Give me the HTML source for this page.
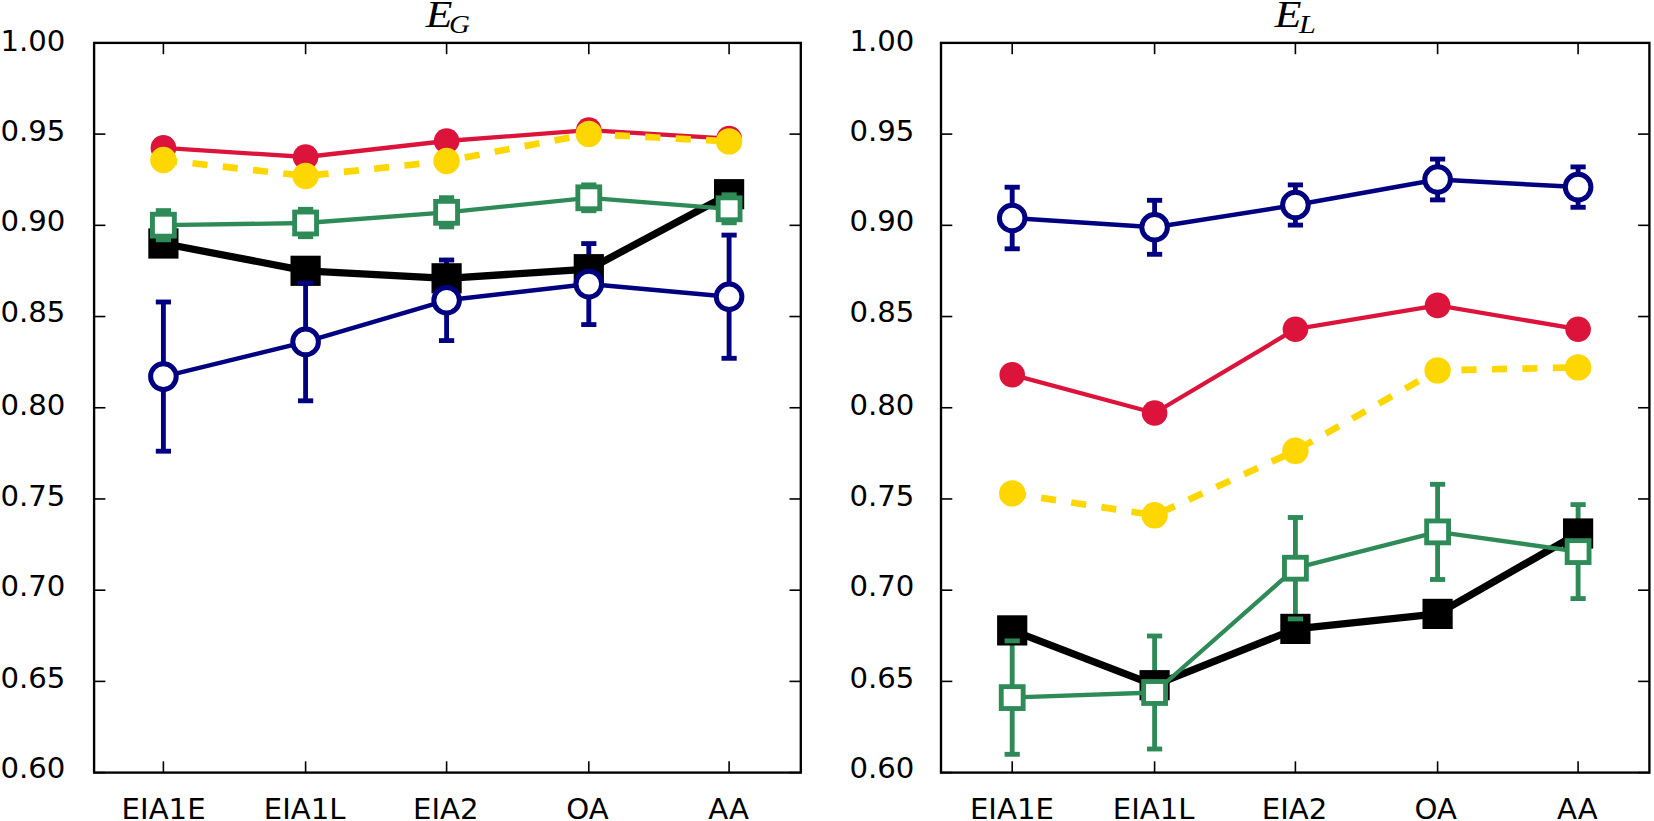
<!DOCTYPE html>
<html lang="en"><head><meta charset="utf-8"><title>E_G and E_L by group</title>
<style>html,body{margin:0;padding:0;background:#fff;overflow:hidden}svg{display:block}.t{font-family:"DejaVu Sans","Liberation Sans",sans-serif;font-size:29.17px;fill:#000}.m{font-family:"Liberation Serif","DejaVu Serif",serif;font-style:italic;fill:#000}</style></head><body>
<svg width="1654" height="821" viewBox="0 0 1654 821">
<rect x="0" y="0" width="1654" height="821" fill="#fff"/>
<g>
<line x1="163.4" x2="163.4" y1="210.6" y2="239.8" stroke="#2e8b57" stroke-width="4.86"/>
<line x1="305.6" x2="305.6" y1="209.3" y2="236.7" stroke="#2e8b57" stroke-width="4.86"/>
<line x1="446.6" x2="446.6" y1="197.7" y2="226.9" stroke="#2e8b57" stroke-width="4.86"/>
<line x1="588.8" x2="588.8" y1="184.9" y2="210.7" stroke="#2e8b57" stroke-width="4.86"/>
<line x1="729.1" x2="729.1" y1="194.8" y2="222.8" stroke="#2e8b57" stroke-width="4.86"/>
<line x1="163.4" x2="163.4" y1="302" y2="451.2" stroke="#000080" stroke-width="4.86"/>
<line x1="305.6" x2="305.6" y1="283" y2="400.8" stroke="#000080" stroke-width="4.86"/>
<line x1="446.6" x2="446.6" y1="260" y2="340.6" stroke="#000080" stroke-width="4.86"/>
<line x1="588.8" x2="588.8" y1="243.6" y2="324.6" stroke="#000080" stroke-width="4.86"/>
<line x1="729.1" x2="729.1" y1="235.1" y2="358.3" stroke="#000080" stroke-width="4.86"/>
<polyline points="163.4,243.5 305.6,270.8 446.6,278.3 588.8,269.2 729.1,194.2" fill="none" stroke="#000000" stroke-width="7.3" stroke-linejoin="round" />
<rect x="148.3" y="228.4" width="30.2" height="30.2" fill="#000000"/>
<rect x="290.5" y="255.7" width="30.2" height="30.2" fill="#000000"/>
<rect x="431.5" y="263.2" width="30.2" height="30.2" fill="#000000"/>
<rect x="573.7" y="254.1" width="30.2" height="30.2" fill="#000000"/>
<rect x="714" y="179.1" width="30.2" height="30.2" fill="#000000"/>
<polyline points="163.4,147.9 305.6,157 446.6,141 588.8,130.1 729.1,138.6" fill="none" stroke="#dc143c" stroke-width="4.3" stroke-linejoin="round" />
<circle cx="163.4" cy="147.9" r="12.8" fill="#dc143c"/>
<circle cx="305.6" cy="157" r="12.8" fill="#dc143c"/>
<circle cx="446.6" cy="141" r="12.8" fill="#dc143c"/>
<circle cx="588.8" cy="130.1" r="12.8" fill="#dc143c"/>
<circle cx="729.1" cy="138.6" r="12.8" fill="#dc143c"/>
<polyline points="163.4,160 305.6,176 446.6,161 588.8,133.9 729.1,141.4" fill="none" stroke="#ffd700" stroke-width="6.7" stroke-linejoin="round" stroke-dasharray="15.1 15.36" stroke-dashoffset="1.2"/>
<circle cx="163.4" cy="160" r="13.2" fill="#ffd700"/>
<circle cx="305.6" cy="176" r="13.2" fill="#ffd700"/>
<circle cx="446.6" cy="161" r="13.2" fill="#ffd700"/>
<circle cx="588.8" cy="133.9" r="13.2" fill="#ffd700"/>
<circle cx="729.1" cy="141.4" r="13.2" fill="#ffd700"/>
<polyline points="163.4,225.2 305.6,223 446.6,212.3 588.8,197.8 729.1,208.8" fill="none" stroke="#2e8b57" stroke-width="4.3" stroke-linejoin="round" />
<rect x="152.45" y="214.25" width="21.9" height="21.9" fill="#fff" stroke="#2e8b57" stroke-width="4.86"/>
<rect x="294.65" y="212.05" width="21.9" height="21.9" fill="#fff" stroke="#2e8b57" stroke-width="4.86"/>
<rect x="435.65" y="201.35" width="21.9" height="21.9" fill="#fff" stroke="#2e8b57" stroke-width="4.86"/>
<rect x="577.85" y="186.85" width="21.9" height="21.9" fill="#fff" stroke="#2e8b57" stroke-width="4.86"/>
<rect x="718.15" y="197.85" width="21.9" height="21.9" fill="#fff" stroke="#2e8b57" stroke-width="4.86"/>
<line x1="155.8" x2="171" y1="210.6" y2="210.6" stroke="#2e8b57" stroke-width="4.86"/>
<line x1="155.8" x2="171" y1="239.8" y2="239.8" stroke="#2e8b57" stroke-width="4.86"/>
<line x1="298" x2="313.2" y1="209.3" y2="209.3" stroke="#2e8b57" stroke-width="4.86"/>
<line x1="298" x2="313.2" y1="236.7" y2="236.7" stroke="#2e8b57" stroke-width="4.86"/>
<line x1="439" x2="454.2" y1="197.7" y2="197.7" stroke="#2e8b57" stroke-width="4.86"/>
<line x1="439" x2="454.2" y1="226.9" y2="226.9" stroke="#2e8b57" stroke-width="4.86"/>
<line x1="581.2" x2="596.4" y1="184.9" y2="184.9" stroke="#2e8b57" stroke-width="4.86"/>
<line x1="581.2" x2="596.4" y1="210.7" y2="210.7" stroke="#2e8b57" stroke-width="4.86"/>
<line x1="721.5" x2="736.7" y1="194.8" y2="194.8" stroke="#2e8b57" stroke-width="4.86"/>
<line x1="721.5" x2="736.7" y1="222.8" y2="222.8" stroke="#2e8b57" stroke-width="4.86"/>
<polyline points="163.4,376.6 305.6,341.9 446.6,300.3 588.8,284.1 729.1,296.7" fill="none" stroke="#000080" stroke-width="4.5" stroke-linejoin="round" />
<circle cx="163.4" cy="376.6" r="12.8" fill="#fff" stroke="#000080" stroke-width="5"/>
<circle cx="305.6" cy="341.9" r="12.8" fill="#fff" stroke="#000080" stroke-width="5"/>
<circle cx="446.6" cy="300.3" r="12.8" fill="#fff" stroke="#000080" stroke-width="5"/>
<circle cx="588.8" cy="284.1" r="12.8" fill="#fff" stroke="#000080" stroke-width="5"/>
<circle cx="729.1" cy="296.7" r="12.8" fill="#fff" stroke="#000080" stroke-width="5"/>
<line x1="155.8" x2="171" y1="302" y2="302" stroke="#000080" stroke-width="4.86"/>
<line x1="155.8" x2="171" y1="451.2" y2="451.2" stroke="#000080" stroke-width="4.86"/>
<line x1="298" x2="313.2" y1="283" y2="283" stroke="#000080" stroke-width="4.86"/>
<line x1="298" x2="313.2" y1="400.8" y2="400.8" stroke="#000080" stroke-width="4.86"/>
<line x1="439" x2="454.2" y1="260" y2="260" stroke="#000080" stroke-width="4.86"/>
<line x1="439" x2="454.2" y1="340.6" y2="340.6" stroke="#000080" stroke-width="4.86"/>
<line x1="581.2" x2="596.4" y1="243.6" y2="243.6" stroke="#000080" stroke-width="4.86"/>
<line x1="581.2" x2="596.4" y1="324.6" y2="324.6" stroke="#000080" stroke-width="4.86"/>
<line x1="721.5" x2="736.7" y1="235.1" y2="235.1" stroke="#000080" stroke-width="4.86"/>
<line x1="721.5" x2="736.7" y1="358.3" y2="358.3" stroke="#000080" stroke-width="4.86"/>
<line x1="94.1" x2="105.4" y1="42.9" y2="42.9" stroke="#000" stroke-width="1.6"/>
<line x1="789.5" x2="800.8" y1="42.9" y2="42.9" stroke="#000" stroke-width="1.6"/>
<line x1="94.1" x2="105.4" y1="134.11" y2="134.11" stroke="#000" stroke-width="1.6"/>
<line x1="789.5" x2="800.8" y1="134.11" y2="134.11" stroke="#000" stroke-width="1.6"/>
<line x1="94.1" x2="105.4" y1="225.33" y2="225.33" stroke="#000" stroke-width="1.6"/>
<line x1="789.5" x2="800.8" y1="225.33" y2="225.33" stroke="#000" stroke-width="1.6"/>
<line x1="94.1" x2="105.4" y1="316.54" y2="316.54" stroke="#000" stroke-width="1.6"/>
<line x1="789.5" x2="800.8" y1="316.54" y2="316.54" stroke="#000" stroke-width="1.6"/>
<line x1="94.1" x2="105.4" y1="407.75" y2="407.75" stroke="#000" stroke-width="1.6"/>
<line x1="789.5" x2="800.8" y1="407.75" y2="407.75" stroke="#000" stroke-width="1.6"/>
<line x1="94.1" x2="105.4" y1="498.96" y2="498.96" stroke="#000" stroke-width="1.6"/>
<line x1="789.5" x2="800.8" y1="498.96" y2="498.96" stroke="#000" stroke-width="1.6"/>
<line x1="94.1" x2="105.4" y1="590.18" y2="590.18" stroke="#000" stroke-width="1.6"/>
<line x1="789.5" x2="800.8" y1="590.18" y2="590.18" stroke="#000" stroke-width="1.6"/>
<line x1="94.1" x2="105.4" y1="681.39" y2="681.39" stroke="#000" stroke-width="1.6"/>
<line x1="789.5" x2="800.8" y1="681.39" y2="681.39" stroke="#000" stroke-width="1.6"/>
<line x1="94.1" x2="105.4" y1="772.6" y2="772.6" stroke="#000" stroke-width="1.6"/>
<line x1="789.5" x2="800.8" y1="772.6" y2="772.6" stroke="#000" stroke-width="1.6"/>
<line x1="163.4" x2="163.4" y1="42.9" y2="54.2" stroke="#000" stroke-width="1.6"/>
<line x1="163.4" x2="163.4" y1="761.3" y2="772.6" stroke="#000" stroke-width="1.6"/>
<line x1="305.6" x2="305.6" y1="42.9" y2="54.2" stroke="#000" stroke-width="1.6"/>
<line x1="305.6" x2="305.6" y1="761.3" y2="772.6" stroke="#000" stroke-width="1.6"/>
<line x1="446.6" x2="446.6" y1="42.9" y2="54.2" stroke="#000" stroke-width="1.6"/>
<line x1="446.6" x2="446.6" y1="761.3" y2="772.6" stroke="#000" stroke-width="1.6"/>
<line x1="588.8" x2="588.8" y1="42.9" y2="54.2" stroke="#000" stroke-width="1.6"/>
<line x1="588.8" x2="588.8" y1="761.3" y2="772.6" stroke="#000" stroke-width="1.6"/>
<line x1="729.1" x2="729.1" y1="42.9" y2="54.2" stroke="#000" stroke-width="1.6"/>
<line x1="729.1" x2="729.1" y1="761.3" y2="772.6" stroke="#000" stroke-width="1.6"/>
<rect x="94.1" y="42.9" width="706.7" height="729.7" fill="none" stroke="#000" stroke-width="2.35"/>
<text class="t" text-anchor="end" x="65.4" y="51.3">1.00</text>
<text class="t" text-anchor="end" x="65.4" y="140.51">0.95</text>
<text class="t" text-anchor="end" x="65.4" y="231.43">0.90</text>
<text class="t" text-anchor="end" x="65.4" y="322.44">0.85</text>
<text class="t" text-anchor="end" x="65.4" y="414.85">0.80</text>
<text class="t" text-anchor="end" x="65.4" y="506.06">0.75</text>
<text class="t" text-anchor="end" x="65.4" y="596.08">0.70</text>
<text class="t" text-anchor="end" x="65.4" y="688.39">0.65</text>
<text class="t" text-anchor="end" x="65.4" y="778.4">0.60</text>
<text class="t" text-anchor="middle" x="163.6" y="818.6">EIA1E</text>
<text class="t" text-anchor="middle" x="304.7" y="818.6">EIA1L</text>
<text class="t" text-anchor="middle" x="445.8" y="818.6">EIA2</text>
<text class="t" text-anchor="middle" x="587.5" y="818.6">OA</text>
<text class="t" text-anchor="middle" x="728.5" y="818.6">AA</text>
<text class="m" x="425.8" y="26.8" font-size="38.1" transform="translate(425.8 0) scale(1.147 1) translate(-425.8 0)">E</text>
<text class="m" x="449" y="32.9" font-size="25.5" transform="translate(449 0) scale(1.136 1) translate(-449 0)">G</text>
</g>
<g>
<line x1="1012.2" x2="1012.2" y1="640.9" y2="754.3" stroke="#2e8b57" stroke-width="4.86"/>
<line x1="1154.6" x2="1154.6" y1="636" y2="749" stroke="#2e8b57" stroke-width="4.86"/>
<line x1="1295.4" x2="1295.4" y1="517.5" y2="618.9" stroke="#2e8b57" stroke-width="4.86"/>
<line x1="1437.6" x2="1437.6" y1="484.3" y2="579.5" stroke="#2e8b57" stroke-width="4.86"/>
<line x1="1578.1" x2="1578.1" y1="504.6" y2="598.6" stroke="#2e8b57" stroke-width="4.86"/>
<line x1="1012.2" x2="1012.2" y1="187.2" y2="248.8" stroke="#000080" stroke-width="4.86"/>
<line x1="1154.6" x2="1154.6" y1="200.3" y2="254.3" stroke="#000080" stroke-width="4.86"/>
<line x1="1295.4" x2="1295.4" y1="184.9" y2="225.1" stroke="#000080" stroke-width="4.86"/>
<line x1="1437.6" x2="1437.6" y1="159.1" y2="199.9" stroke="#000080" stroke-width="4.86"/>
<line x1="1578.1" x2="1578.1" y1="166.9" y2="207.3" stroke="#000080" stroke-width="4.86"/>
<polyline points="1012.2,630.4 1154.6,685.2 1295.4,628.9 1437.6,613.9 1578.1,533.5" fill="none" stroke="#000000" stroke-width="7.3" stroke-linejoin="round" />
<rect x="997.1" y="615.3" width="30.2" height="30.2" fill="#000000"/>
<rect x="1139.5" y="670.1" width="30.2" height="30.2" fill="#000000"/>
<rect x="1280.3" y="613.8" width="30.2" height="30.2" fill="#000000"/>
<rect x="1422.5" y="598.8" width="30.2" height="30.2" fill="#000000"/>
<rect x="1563" y="518.4" width="30.2" height="30.2" fill="#000000"/>
<polyline points="1012.2,374.7 1154.6,413 1295.4,329.2 1437.6,305.4 1578.1,329.2" fill="none" stroke="#dc143c" stroke-width="4.3" stroke-linejoin="round" />
<circle cx="1012.2" cy="374.7" r="12.8" fill="#dc143c"/>
<circle cx="1154.6" cy="413" r="12.8" fill="#dc143c"/>
<circle cx="1295.4" cy="329.2" r="12.8" fill="#dc143c"/>
<circle cx="1437.6" cy="305.4" r="12.8" fill="#dc143c"/>
<circle cx="1578.1" cy="329.2" r="12.8" fill="#dc143c"/>
<polyline points="1012.2,493.4 1154.6,515.3 1295.4,450.8 1437.6,370.4 1578.1,367.4" fill="none" stroke="#ffd700" stroke-width="6.7" stroke-linejoin="round" stroke-dasharray="15.1 15.36" stroke-dashoffset="1.2"/>
<circle cx="1012.2" cy="493.4" r="13.2" fill="#ffd700"/>
<circle cx="1154.6" cy="515.3" r="13.2" fill="#ffd700"/>
<circle cx="1295.4" cy="450.8" r="13.2" fill="#ffd700"/>
<circle cx="1437.6" cy="370.4" r="13.2" fill="#ffd700"/>
<circle cx="1578.1" cy="367.4" r="13.2" fill="#ffd700"/>
<polyline points="1012.2,697.6 1154.6,692.5 1295.4,568.2 1437.6,531.9 1578.1,551.6" fill="none" stroke="#2e8b57" stroke-width="4.3" stroke-linejoin="round" />
<rect x="1001.25" y="686.65" width="21.9" height="21.9" fill="#fff" stroke="#2e8b57" stroke-width="4.86"/>
<rect x="1143.65" y="681.55" width="21.9" height="21.9" fill="#fff" stroke="#2e8b57" stroke-width="4.86"/>
<rect x="1284.45" y="557.25" width="21.9" height="21.9" fill="#fff" stroke="#2e8b57" stroke-width="4.86"/>
<rect x="1426.65" y="520.95" width="21.9" height="21.9" fill="#fff" stroke="#2e8b57" stroke-width="4.86"/>
<rect x="1567.15" y="540.65" width="21.9" height="21.9" fill="#fff" stroke="#2e8b57" stroke-width="4.86"/>
<line x1="1004.6" x2="1019.8" y1="640.9" y2="640.9" stroke="#2e8b57" stroke-width="4.86"/>
<line x1="1004.6" x2="1019.8" y1="754.3" y2="754.3" stroke="#2e8b57" stroke-width="4.86"/>
<line x1="1147" x2="1162.2" y1="636" y2="636" stroke="#2e8b57" stroke-width="4.86"/>
<line x1="1147" x2="1162.2" y1="749" y2="749" stroke="#2e8b57" stroke-width="4.86"/>
<line x1="1287.8" x2="1303" y1="517.5" y2="517.5" stroke="#2e8b57" stroke-width="4.86"/>
<line x1="1287.8" x2="1303" y1="618.9" y2="618.9" stroke="#2e8b57" stroke-width="4.86"/>
<line x1="1430" x2="1445.2" y1="484.3" y2="484.3" stroke="#2e8b57" stroke-width="4.86"/>
<line x1="1430" x2="1445.2" y1="579.5" y2="579.5" stroke="#2e8b57" stroke-width="4.86"/>
<line x1="1570.5" x2="1585.7" y1="504.6" y2="504.6" stroke="#2e8b57" stroke-width="4.86"/>
<line x1="1570.5" x2="1585.7" y1="598.6" y2="598.6" stroke="#2e8b57" stroke-width="4.86"/>
<polyline points="1012.2,218 1154.6,227.3 1295.4,205 1437.6,179.5 1578.1,187.1" fill="none" stroke="#000080" stroke-width="4.5" stroke-linejoin="round" />
<circle cx="1012.2" cy="218" r="12.8" fill="#fff" stroke="#000080" stroke-width="5"/>
<circle cx="1154.6" cy="227.3" r="12.8" fill="#fff" stroke="#000080" stroke-width="5"/>
<circle cx="1295.4" cy="205" r="12.8" fill="#fff" stroke="#000080" stroke-width="5"/>
<circle cx="1437.6" cy="179.5" r="12.8" fill="#fff" stroke="#000080" stroke-width="5"/>
<circle cx="1578.1" cy="187.1" r="12.8" fill="#fff" stroke="#000080" stroke-width="5"/>
<line x1="1004.6" x2="1019.8" y1="187.2" y2="187.2" stroke="#000080" stroke-width="4.86"/>
<line x1="1004.6" x2="1019.8" y1="248.8" y2="248.8" stroke="#000080" stroke-width="4.86"/>
<line x1="1147" x2="1162.2" y1="200.3" y2="200.3" stroke="#000080" stroke-width="4.86"/>
<line x1="1147" x2="1162.2" y1="254.3" y2="254.3" stroke="#000080" stroke-width="4.86"/>
<line x1="1287.8" x2="1303" y1="184.9" y2="184.9" stroke="#000080" stroke-width="4.86"/>
<line x1="1287.8" x2="1303" y1="225.1" y2="225.1" stroke="#000080" stroke-width="4.86"/>
<line x1="1430" x2="1445.2" y1="159.1" y2="159.1" stroke="#000080" stroke-width="4.86"/>
<line x1="1430" x2="1445.2" y1="199.9" y2="199.9" stroke="#000080" stroke-width="4.86"/>
<line x1="1570.5" x2="1585.7" y1="166.9" y2="166.9" stroke="#000080" stroke-width="4.86"/>
<line x1="1570.5" x2="1585.7" y1="207.3" y2="207.3" stroke="#000080" stroke-width="4.86"/>
<line x1="941" x2="952.3" y1="42.9" y2="42.9" stroke="#000" stroke-width="1.6"/>
<line x1="1638.1" x2="1649.4" y1="42.9" y2="42.9" stroke="#000" stroke-width="1.6"/>
<line x1="941" x2="952.3" y1="134.11" y2="134.11" stroke="#000" stroke-width="1.6"/>
<line x1="1638.1" x2="1649.4" y1="134.11" y2="134.11" stroke="#000" stroke-width="1.6"/>
<line x1="941" x2="952.3" y1="225.33" y2="225.33" stroke="#000" stroke-width="1.6"/>
<line x1="1638.1" x2="1649.4" y1="225.33" y2="225.33" stroke="#000" stroke-width="1.6"/>
<line x1="941" x2="952.3" y1="316.54" y2="316.54" stroke="#000" stroke-width="1.6"/>
<line x1="1638.1" x2="1649.4" y1="316.54" y2="316.54" stroke="#000" stroke-width="1.6"/>
<line x1="941" x2="952.3" y1="407.75" y2="407.75" stroke="#000" stroke-width="1.6"/>
<line x1="1638.1" x2="1649.4" y1="407.75" y2="407.75" stroke="#000" stroke-width="1.6"/>
<line x1="941" x2="952.3" y1="498.96" y2="498.96" stroke="#000" stroke-width="1.6"/>
<line x1="1638.1" x2="1649.4" y1="498.96" y2="498.96" stroke="#000" stroke-width="1.6"/>
<line x1="941" x2="952.3" y1="590.18" y2="590.18" stroke="#000" stroke-width="1.6"/>
<line x1="1638.1" x2="1649.4" y1="590.18" y2="590.18" stroke="#000" stroke-width="1.6"/>
<line x1="941" x2="952.3" y1="681.39" y2="681.39" stroke="#000" stroke-width="1.6"/>
<line x1="1638.1" x2="1649.4" y1="681.39" y2="681.39" stroke="#000" stroke-width="1.6"/>
<line x1="941" x2="952.3" y1="772.6" y2="772.6" stroke="#000" stroke-width="1.6"/>
<line x1="1638.1" x2="1649.4" y1="772.6" y2="772.6" stroke="#000" stroke-width="1.6"/>
<line x1="1012.2" x2="1012.2" y1="42.9" y2="54.2" stroke="#000" stroke-width="1.6"/>
<line x1="1012.2" x2="1012.2" y1="761.3" y2="772.6" stroke="#000" stroke-width="1.6"/>
<line x1="1154.6" x2="1154.6" y1="42.9" y2="54.2" stroke="#000" stroke-width="1.6"/>
<line x1="1154.6" x2="1154.6" y1="761.3" y2="772.6" stroke="#000" stroke-width="1.6"/>
<line x1="1295.4" x2="1295.4" y1="42.9" y2="54.2" stroke="#000" stroke-width="1.6"/>
<line x1="1295.4" x2="1295.4" y1="761.3" y2="772.6" stroke="#000" stroke-width="1.6"/>
<line x1="1437.6" x2="1437.6" y1="42.9" y2="54.2" stroke="#000" stroke-width="1.6"/>
<line x1="1437.6" x2="1437.6" y1="761.3" y2="772.6" stroke="#000" stroke-width="1.6"/>
<line x1="1578.1" x2="1578.1" y1="42.9" y2="54.2" stroke="#000" stroke-width="1.6"/>
<line x1="1578.1" x2="1578.1" y1="761.3" y2="772.6" stroke="#000" stroke-width="1.6"/>
<rect x="941" y="42.9" width="708.4" height="729.7" fill="none" stroke="#000" stroke-width="2.35"/>
<text class="t" text-anchor="end" x="914.4" y="51.3">1.00</text>
<text class="t" text-anchor="end" x="914.4" y="140.51">0.95</text>
<text class="t" text-anchor="end" x="914.4" y="231.43">0.90</text>
<text class="t" text-anchor="end" x="914.4" y="322.44">0.85</text>
<text class="t" text-anchor="end" x="914.4" y="414.85">0.80</text>
<text class="t" text-anchor="end" x="914.4" y="506.06">0.75</text>
<text class="t" text-anchor="end" x="914.4" y="596.08">0.70</text>
<text class="t" text-anchor="end" x="914.4" y="688.39">0.65</text>
<text class="t" text-anchor="end" x="914.4" y="778.4">0.60</text>
<text class="t" text-anchor="middle" x="1011.9" y="818.6">EIA1E</text>
<text class="t" text-anchor="middle" x="1153.7" y="818.6">EIA1L</text>
<text class="t" text-anchor="middle" x="1294.5" y="818.6">EIA2</text>
<text class="t" text-anchor="middle" x="1435.8" y="818.6">OA</text>
<text class="t" text-anchor="middle" x="1577.3" y="818.6">AA</text>
<text class="m" x="1274.8" y="26.8" font-size="38.1" transform="translate(1274.8 0) scale(1.147 1) translate(-1274.8 0)">E</text>
<text class="m" x="1299.1" y="32.9" font-size="25.5" transform="translate(1299.1 0) scale(1.19 1) translate(-1299.1 0)">L</text>
</g>
</svg></body></html>
